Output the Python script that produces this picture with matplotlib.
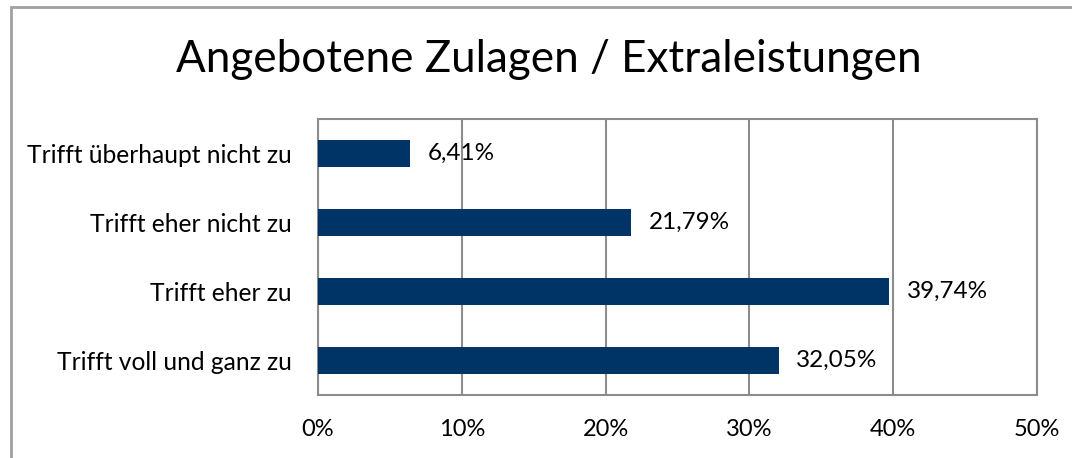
import matplotlib
matplotlib.use("Agg")
import matplotlib.pyplot as plt
from matplotlib.patches import Rectangle
from matplotlib.ticker import FuncFormatter

categories = ["Trifft voll und ganz zu", "Trifft eher zu", "Trifft eher nicht zu", "Trifft überhaupt nicht zu"]
values = [32.05, 39.74, 21.79, 6.41]
xticks = [0, 10, 20, 30, 40, 50]

plt.rcParams['font.family'] = ['Lato', 'DejaVu Sans']
bar_color = '#003366'
grid_color = '#8c8c8c'

fig = plt.figure(figsize=(10.72, 4.58), dpi=100)
ax = fig.add_axes([318/1072, 1 - 395/458, (1037-318)/1072, (395-119)/458])

# outer chart frame (runs off the right and bottom edge)
fig.patches.append(Rectangle((11/1072, -0.1), 1.2, 1 - 7/458 + 0.1, transform=fig.transFigure,
                             fill=False, edgecolor='#a0a0a0', linewidth=2))

ax.barh(categories, values, height=0.39, color=bar_color, zorder=3)
for i, v in enumerate(values):
    ax.text(v + 1.2, i, ("%.2f%%" % v).replace(".", ","), va='center', ha='left', fontsize=17.5, zorder=4)

ax.set_xlim(0, 50)
ax.set_ylim(-0.5, 3.5)
ax.set_xticks(xticks)
ax.xaxis.set_major_formatter(FuncFormatter(lambda x, p: "%d%%" % x))
ax.grid(axis='x', color=grid_color, linewidth=1.5, zorder=0)
ax.tick_params(axis='y', length=0, labelsize=17.7, pad=19)
ax.tick_params(axis='x', length=0, labelsize=17, pad=17)
for s in ax.spines.values():
    s.set_color(grid_color)
    s.set_linewidth(1.5)

fig.text(549/1072, 1 - 60/458, "Angebotene Zulagen / Extraleistungen", ha='center', va='center', fontsize=31.7)

fig.savefig("out.png", dpi=100)
